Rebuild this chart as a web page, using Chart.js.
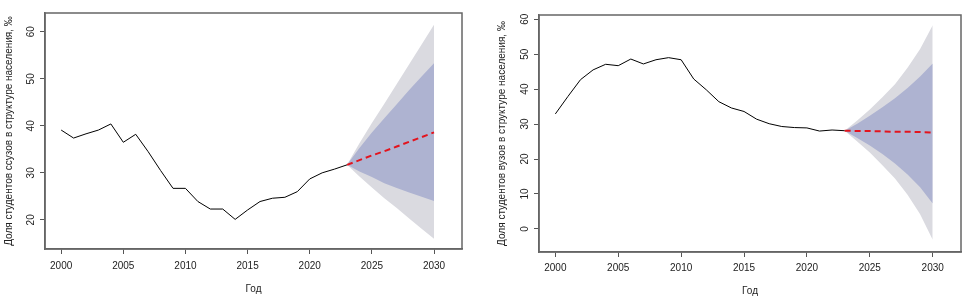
<!DOCTYPE html>
<html>
<head>
<meta charset="utf-8">
<script src="https://cdn.jsdelivr.net/npm/chart.js@4.4.1/dist/chart.umd.min.js"></script>
<style>
  html, body { margin: 0; padding: 0; background: #fff; }
  #wrap { position: relative; width: 965px; height: 298px; }
  canvas { position: absolute; top: 0; }
</style>
</head>
<body>
<div id="wrap">
  <canvas id="left" width="480" height="298" style="left:0"></canvas>
  <canvas id="right" width="485" height="298" style="left:480px"></canvas>
</div>
<script>
// years
const histYears = [2000, 2001, 2002, 2003, 2004, 2005, 2006, 2007, 2008, 2009, 2010, 2011,
  2012, 2013, 2014, 2015, 2016, 2017, 2018, 2019, 2020, 2021, 2022, 2023];
const fcYears = [2023, 2024, 2025, 2026, 2027, 2028, 2029, 2030];
const xTicks = [2000, 2005, 2010, 2015, 2020, 2025, 2030];

// ссузы
const ssuzHist = [39.1, 37.4, 38.3, 39.1, 40.4, 36.5, 38.2, 34.5, 30.5, 26.7, 26.7, 23.9,
  22.3, 22.3, 20.1, 22.1, 23.9, 24.6, 24.8, 26.0, 28.7, 30.0, 30.8, 31.7];
const ssuzMean = [31.7, 32.7, 33.7, 34.6, 35.6, 36.6, 37.6, 38.6];
const ssuzHi80 = [31.7, 35.3, 38.6, 41.6, 44.6, 47.6, 50.5, 53.3];
const ssuzLo80 = [31.7, 30.3, 29.1, 27.8, 26.8, 25.8, 24.9, 24.0];
const ssuzHi95 = [31.7, 36.3, 40.6, 44.7, 48.9, 53.1, 57.3, 61.5];
const ssuzLo95 = [31.7, 29.2, 26.9, 24.6, 22.5, 20.3, 18.1, 16.0];
const ssuzYTicks = [20, 30, 40, 50, 60];

// вузы
const vuzHist = [32.9, 37.9, 42.7, 45.5, 47.1, 46.7, 48.6, 47.2, 48.4, 49.0, 48.4, 42.9,
  39.8, 36.4, 34.6, 33.6, 31.4, 30.1, 29.3, 29.0, 28.9, 28.0, 28.3, 28.1];
const vuzMean = [28.1, 28.0, 28.0, 27.9, 27.8, 27.8, 27.7, 27.6];
const vuzHi80 = [28.1, 30.1, 32.4, 34.8, 37.4, 40.3, 43.6, 47.3];
const vuzLo80 = [28.1, 26.0, 23.9, 21.4, 18.7, 15.6, 11.9, 7.3];
const vuzHi95 = [28.1, 31.0, 34.2, 37.7, 41.4, 46.1, 51.5, 58.3];
const vuzLo95 = [28.1, 25.0, 21.9, 18.2, 14.4, 9.8, 4.2, -3.1];
const vuzYTicks = [0, 10, 20, 30, 40, 50, 60];

const FONT = "'Liberation Sans', Arial, sans-serif";
const TEXT = "#222";
const LIGHT = "#dadae0";
const DARK = "#aeb3d1";

const pts = (xs, ys) => xs.map((x, i) => ({ x: x, y: ys[i] }));

// box around plot + rotated y tick labels like R
const boxPlugin = {
  id: "rbox",
  afterDraw(chart, args, opts) {
    const { ctx, chartArea: a, scales } = chart;
    ctx.save();
    ctx.strokeStyle = "#666";
    ctx.lineWidth = 1.5;
    ctx.strokeRect(a.left, a.top, a.right - a.left, a.bottom - a.top);
    ctx.fillStyle = TEXT;
    ctx.font = "10px " + FONT;
    ctx.textAlign = "center";
    ctx.textBaseline = "middle";
    scales.y.ticks.forEach(t => {
      ctx.save();
      ctx.translate(a.left - opts.offset, scales.y.getPixelForValue(t.value));
      ctx.rotate(-Math.PI / 2);
      ctx.fillText(String(t.value), 0, 0);
      ctx.restore();
    });
    ctx.restore();
  }
};

function makeChart(id, cfg) {
  const datasets = [
    { data: pts(histYears, cfg.hist), borderColor: "#000", borderWidth: 1 },
    { data: pts(fcYears, cfg.mean), borderColor: "#e3141e", borderWidth: 2, borderDash: [6, 4] },
    { data: pts(fcYears, cfg.hi80), borderWidth: 0, borderColor: "rgba(0,0,0,0)", backgroundColor: DARK, fill: "+1" },
    { data: pts(fcYears, cfg.lo80), borderWidth: 0, borderColor: "rgba(0,0,0,0)" },
    { data: pts(fcYears, cfg.hi95), borderWidth: 0, borderColor: "rgba(0,0,0,0)", backgroundColor: LIGHT, fill: "+1" },
    { data: pts(fcYears, cfg.lo95), borderWidth: 0, borderColor: "rgba(0,0,0,0)" }
  ];

  return new Chart(document.getElementById(id), {
    type: "line",
    data: { datasets: datasets },
    plugins: [boxPlugin],
    options: {
      responsive: false,
      animation: false,
      layout: { padding: cfg.padding },
      elements: { point: { radius: 0 }, line: { tension: 0 } },
      plugins: {
        legend: { display: false },
        tooltip: { enabled: false },
        rbox: { offset: cfg.labelOffset }
      },
      scales: {
        x: {
          type: "linear",
          min: 1998.7,
          max: 2032.25,
          afterBuildTicks: s => { s.ticks = xTicks.map(v => ({ value: v })); },
          afterFit: s => { s.height = cfg.xHeight; },
          ticks: {
            color: TEXT,
            font: { family: FONT, size: 10 },
            padding: cfg.xPad,
            maxRotation: 0,
            callback: v => String(v)
          },
          grid: { display: true, drawOnChartArea: false, drawTicks: true, tickLength: 5, color: "#555" },
          border: { display: true, color: "#666", width: 1.5 },
          title: {
            display: true,
            text: "Год",
            color: TEXT,
            font: { family: FONT, size: 10 },
            padding: { top: 0, bottom: cfg.xTitlePad }
          }
        },
        y: {
          type: "linear",
          min: cfg.yMin,
          max: cfg.yMax,
          afterBuildTicks: s => { s.ticks = cfg.yTicks.map(v => ({ value: v })); },
          afterFit: s => { s.width = cfg.yWidth; },
          ticks: { display: false },
          grid: { display: true, drawOnChartArea: false, drawTicks: true, tickLength: 5, color: "#555" },
          border: { display: true, color: "#666", width: 1.5 },
          title: {
            display: true,
            text: cfg.yTitle,
            color: TEXT,
            font: { family: FONT, size: 10 },
            padding: { top: cfg.yTitlePad, bottom: 0 }
          }
        }
      }
    }
  });
}

makeChart("left", {
  hist: ssuzHist, mean: ssuzMean, hi80: ssuzHi80, lo80: ssuzLo80, hi95: ssuzHi95, lo95: ssuzLo95,
  yTicks: ssuzYTicks, yMin: 13.8, yMax: 64,
  yTitle: "Доля студентов ссузов в структуре населения, ‰",
  padding: { top: 13, right: 18, left: 0, bottom: 0 },
  yWidth: 45, xHeight: 49, xPad: 6, xTitlePad: 3, yTitlePad: 3, labelOffset: 14
});

makeChart("right", {
  hist: vuzHist, mean: vuzMean, hi80: vuzHi80, lo80: vuzLo80, hi95: vuzHi95, lo95: vuzLo95,
  yTicks: vuzYTicks, yMin: -6.6, yMax: 61.2,
  yTitle: "Доля студентов вузов в структуре населения, ‰",
  padding: { top: 15, right: 4, left: 0, bottom: 0 },
  yWidth: 59, xHeight: 46, xPad: 5, xTitlePad: 1, yTitlePad: 16, labelOffset: 14
});
</script>
</body>
</html>
